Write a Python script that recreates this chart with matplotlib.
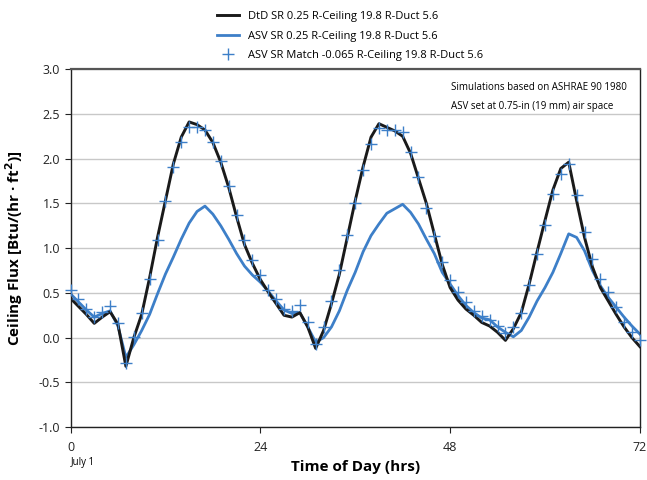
import numpy as np
import matplotlib
matplotlib.use("Agg")
import matplotlib.pyplot as plt

plt.rcParams['font.family'] = ['Open Sans', 'DejaVu Sans']

# hourly ceiling flux, July 1-3
hours = np.arange(0, 73)

dtd_sr = [0.44, 0.35, 0.26, 0.16, 0.23, 0.29, 0.15, -0.32, 0.00, 0.26,
          0.67, 1.12, 1.53, 1.94, 2.24, 2.41, 2.38, 2.32, 2.18, 1.96,
          1.68, 1.35, 1.04, 0.83, 0.65, 0.51, 0.38, 0.25, 0.23, 0.28,
          0.12, -0.12, 0.08, 0.38, 0.71, 1.12, 1.53, 1.91, 2.24, 2.39,
          2.35, 2.31, 2.25, 2.06, 1.78, 1.50, 1.16, 0.82, 0.56, 0.42,
          0.32, 0.25, 0.17, 0.13, 0.06, -0.03, 0.10, 0.28, 0.60, 0.96,
          1.31, 1.65, 1.89, 1.96, 1.53, 1.12, 0.79, 0.56, 0.41, 0.26,
          0.12, 0.00, -0.10]

asv_sr = [0.49, 0.40, 0.31, 0.23, 0.27, 0.30, 0.13, -0.22, -0.08, 0.08,
          0.26, 0.49, 0.71, 0.90, 1.10, 1.28, 1.41, 1.47, 1.38, 1.25,
          1.10, 0.94, 0.80, 0.70, 0.62, 0.52, 0.41, 0.31, 0.27, 0.28,
          0.12, -0.05, 0.00, 0.12, 0.30, 0.53, 0.73, 0.96, 1.14, 1.27,
          1.39, 1.44, 1.49, 1.40, 1.27, 1.10, 0.94, 0.73, 0.60, 0.47,
          0.36, 0.28, 0.22, 0.20, 0.12, 0.06, 0.01, 0.08, 0.23, 0.41,
          0.56, 0.73, 0.94, 1.16, 1.12, 0.97, 0.75, 0.58, 0.45, 0.34,
          0.23, 0.13, 0.04]

asv_match = [0.53, 0.43, 0.32, 0.23, 0.29, 0.35, 0.16, -0.28, 0.01, 0.28,
             0.65, 1.09, 1.53, 1.91, 2.19, 2.35, 2.35, 2.32, 2.19, 1.97,
             1.69, 1.37, 1.09, 0.87, 0.70, 0.53, 0.43, 0.32, 0.30, 0.36,
             0.17, -0.07, 0.12, 0.41, 0.76, 1.15, 1.51, 1.87, 2.16, 2.34,
             2.32, 2.32, 2.30, 2.07, 1.79, 1.45, 1.14, 0.85, 0.64, 0.51,
             0.40, 0.30, 0.24, 0.20, 0.13, 0.05, 0.12, 0.28, 0.59, 0.94,
             1.26, 1.61, 1.83, 1.94, 1.59, 1.18, 0.88, 0.66, 0.51, 0.34,
             0.17, 0.06, -0.03]

labels = ["DtD SR 0.25 R-Ceiling 19.8 R-Duct 5.6",
          "ASV SR 0.25 R-Ceiling 19.8 R-Duct 5.6",
          "ASV SR Match -0.065 R-Ceiling 19.8 R-Duct 5.6"]

x_ticks = [0, 24, 48, 72]
y_ticks = np.arange(-1.0, 3.01, 0.5)

fig = plt.figure(figsize=(6.47, 4.80), dpi=100)
ax = fig.add_axes([0.109, 0.110, 0.880, 0.746])

blue = '#3d7fc8'
ax.plot(hours, dtd_sr, color='#1a1a1a', lw=2.1, label=labels[0], zorder=3)
ax.plot(hours, asv_sr, color=blue, lw=2.0, label=labels[1], zorder=2)
ax.plot(hours, asv_match, ls='none', marker='+', ms=8, mew=1.0,
        color=blue, label=labels[2], zorder=4, clip_on=False)

ax.set_xlim(0, 72)
ax.set_ylim(-1.0, 3.0)
ax.set_xticks(x_ticks)
ax.set_yticks(y_ticks)
ax.set_yticklabels([f"{v:.1f}" for v in y_ticks])
ax.tick_params(axis='both', labelsize=9, direction='out', length=4, width=0.8, colors='#222222')
ax.tick_params(axis='x', pad=6)
ax.yaxis.grid(True, color='#c8c8c8', lw=1.0)
ax.set_axisbelow(True)
for side in ['left', 'bottom', 'right']:
    ax.spines[side].set_color('#222222')
    ax.spines[side].set_linewidth(1.0)
ax.spines['top'].set_color('#555555')
ax.spines['top'].set_linewidth(1.6)

ax.set_xlabel("Time of Day (hrs)", fontsize=11, fontweight='bold', labelpad=4)
ax.set_ylabel("Ceiling Flux [Btu/(hr \u00b7 ft$^\\mathbf{2}$)]", fontsize=11,
              fontweight='bold', labelpad=10)
fig.text(0.109, 0.036, "July 1", fontsize=7, ha='left', va='center')

ax.text(0.668, 0.965, "Simulations based on ASHRAE 90 1980\nASV set at 0.75-in (19 mm) air space",
        transform=ax.transAxes, ha='left', va='top', fontsize=7, linespacing=2.0)

fig.legend(loc='upper left', bbox_to_anchor=(0.322, 0.995), frameon=False,
           fontsize=8, handlelength=2.0, labelspacing=0.75, borderpad=0.3)

fig.savefig("out.png", dpi=100)
